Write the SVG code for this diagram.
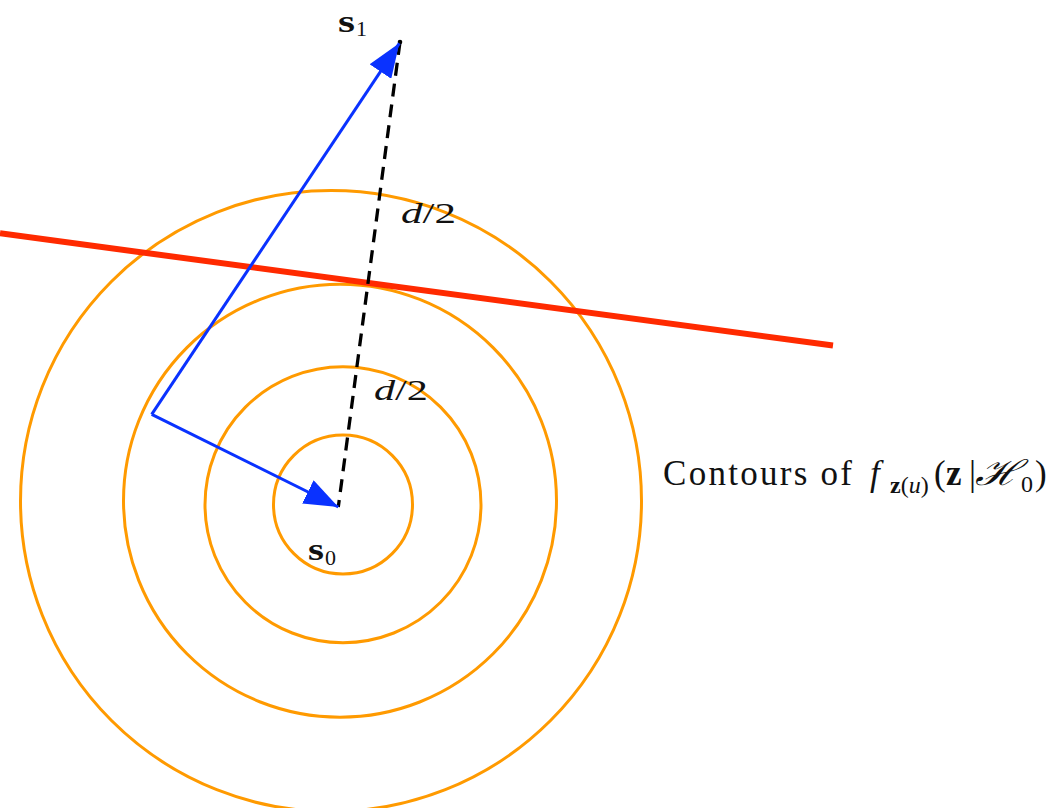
<svg xmlns="http://www.w3.org/2000/svg" width="1058" height="808" viewBox="0 0 1058 808">
<style>
.contour{fill:none;stroke:#ff9a00;stroke-width:3}
.blue{fill:none;stroke:#0a32ff;stroke-width:3;stroke-linejoin:miter}
.dash{fill:none;stroke:#000;stroke-width:3.3;stroke-dasharray:13 8}
.boundary{fill:none;stroke:#ff2a00;stroke-width:6}
text{font-family:"Liberation Serif","Times New Roman",serif;fill:#111}
.it{font-style:italic}
.bf{font-weight:bold}
</style>
<defs>
<marker id="arr" viewBox="0 0 34 26" refX="34" refY="13" markerWidth="34" markerHeight="26" markerUnits="userSpaceOnUse" orient="auto">
<path d="M0,0 L34,13 L0,26 z" fill="#0a32ff"/>
</marker>
</defs>
<rect width="1058" height="808" fill="#fff"/>
<g id="contours">
<circle class="contour" cx="343" cy="504.5" r="69.5"/>
<circle class="contour" cx="343" cy="504.7" r="138"/>
<circle class="contour" cx="340" cy="500.7" r="216.5"/>
<circle class="contour" cx="331" cy="501" r="310.5"/>
</g>
<g id="boundary">
<line class="boundary" x1="0" y1="233.3" x2="833" y2="345.5"/>
</g>
<g id="connectors">
<line class="dash" x1="400" y1="42" x2="338.3" y2="507"/>
<circle cx="400" cy="42" r="2.3" fill="#000"/>
<path class="blue" d="M151.7,414.3 L399.3,43.3" marker-end="url(#arr)"/>
<path class="blue" d="M151.7,414.3 L338.3,507" marker-end="url(#arr)"/>
</g>
<g id="s1">
<text x="338" y="31.5" font-size="31" class="bf" textLength="17" lengthAdjust="spacingAndGlyphs">s</text>
<text x="356" y="36" font-size="22">1</text>
</g>
<g id="s0">
<text x="308" y="560" font-size="31" class="bf" textLength="16" lengthAdjust="spacingAndGlyphs">s</text>
<text x="325" y="564.5" font-size="22">0</text>
</g>
<g id="d2-upper">
<text x="401" y="223" font-size="30" textLength="55" lengthAdjust="spacingAndGlyphs"><tspan class="it">d</tspan>/2</text>
</g>
<g id="d2-lower">
<text x="374" y="400" font-size="30" textLength="54" lengthAdjust="spacingAndGlyphs"><tspan class="it">d</tspan>/2</text>
</g>
<g id="contour-label">
<text x="663" y="485" font-size="35" textLength="189" lengthAdjust="spacing">Contours of</text>
<text x="870" y="485" font-size="35" class="it">f</text>
<text x="890" y="493" font-size="24"><tspan class="bf">z</tspan>(<tspan class="it">u</tspan>)</text>
<text x="934" y="485" font-size="35">(</text>
<text x="946" y="485" font-size="35" class="bf">z</text>
<text x="969" y="485" font-size="35">|</text>
<text x="975" y="485" font-size="35" class="it" textLength="45" lengthAdjust="spacingAndGlyphs">ℋ</text>
<text x="1021" y="492" font-size="24">0</text>
<text x="1035" y="485" font-size="35">)</text>
</g>
</svg>
